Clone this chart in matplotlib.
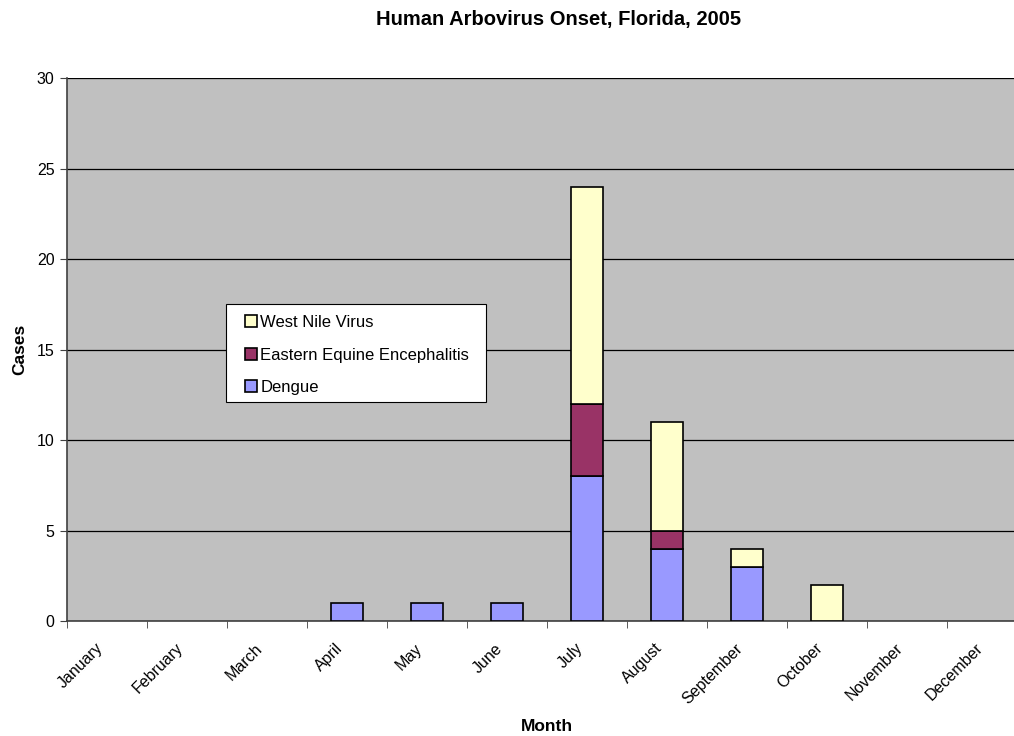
import numpy as np
import matplotlib.pyplot as plt
from matplotlib.patches import Rectangle

plt.rcParams['font.family'] = ['Liberation Sans', 'DejaVu Sans']

months = ["January", "February", "March", "April", "May", "June", "July",
          "August", "September", "October", "November", "December"]
dengue = [0, 0, 0, 1, 1, 1, 8, 4, 3, 0, 0, 0]
eee = [0, 0, 0, 0, 0, 0, 4, 1, 0, 0, 0, 0]
wnv = [0, 0, 0, 0, 0, 0, 12, 6, 1, 2, 0, 0]

fig = plt.figure(figsize=(10.14, 7.36), dpi=100)
# plot area runs slightly past the right edge of the image, like the original
ax = fig.add_axes([0.066, 0.156, 0.9467, 0.738])
ax.set_facecolor("#C0C0C0")

x = np.arange(len(months))
dengue = np.array(dengue)
eee = np.array(eee)
wnv = np.array(wnv)
w = 0.4

def draw(vals, bottom, color, label):
    mask = vals > 0
    ax.bar(x[mask], vals[mask], w, bottom=bottom[mask], color=color,
           edgecolor="black", linewidth=1.2, label=label, zorder=3)

draw(dengue, np.zeros(12), "#9999FF", "Dengue")
draw(eee, dengue, "#993366", "Eastern Equine Encephalitis")
draw(wnv, dengue + eee, "#FFFFCC", "West Nile Virus")

ax.set_xlim(-0.5, 11.5)
ax.set_ylim(0, 30)
ax.set_yticks(range(0, 31, 5))
ax.yaxis.grid(True, color="black", linewidth=0.9, zorder=1)
ax.set_axisbelow(True)

# rotated labels sit a little left of the category centre in the original
ax.set_xticks(x - 0.15)
ax.set_xticklabels(months, rotation=45, ha="right", rotation_mode="anchor",
                   fontsize=11.5)
ax.set_xticks(np.arange(-0.5, 12, 1), minor=True)
ax.tick_params(axis="x", which="major", length=0, pad=14)
ax.tick_params(axis="x", which="minor", length=5, color="#404040")
ax.tick_params(axis="y", length=5, labelsize=11.5, color="#404040", pad=4)

for s in ["top", "right"]:
    ax.spines[s].set_visible(False)
ax.spines["left"].set_color("#404040")
ax.spines["bottom"].set_color("#404040")
ax.spines["left"].set_linewidth(1.2)
ax.spines["bottom"].set_linewidth(1.2)

ax.set_xlabel("Month", fontsize=12.5, fontweight="bold", labelpad=9)
ax.set_ylabel("Cases", fontsize=12.5, fontweight="bold", labelpad=7)
fig.text(0.551, 0.974, "Human Arbovirus Onset, Florida, 2005", fontsize=14.5,
         fontweight="bold", ha="center", va="center")

# legend box drawn separately so its padding matches the original
ax.add_patch(Rectangle((0.1656, 0.4033), 0.2709, 0.1805, transform=ax.transAxes,
                       facecolor="white", edgecolor="black", linewidth=0.8,
                       zorder=4))
handles, labels = ax.get_legend_handles_labels()
leg = ax.legend(handles[::-1], labels[::-1], loc="upper left",
                bbox_to_anchor=(0.1854, 0.564), fontsize=12, frameon=False,
                handlelength=0.72, handleheight=0.72, handletextpad=0.2,
                labelspacing=1.06, borderpad=0, borderaxespad=0)
leg.set_zorder(5)

fig.savefig("out.png", dpi=100)
